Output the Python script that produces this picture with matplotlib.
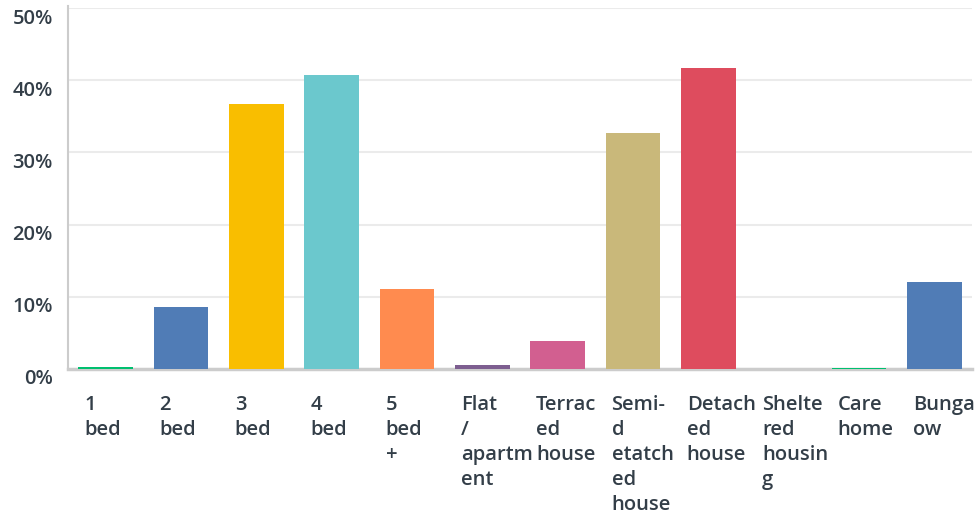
import matplotlib
matplotlib.use("Agg")
import matplotlib.pyplot as plt
import matplotlib.transforms as mtransforms
import numpy as np

# data
categories = ["1\nbed", "2\nbed", "3\nbed", "4\nbed", "5\nbed\n+", "Flat\n/\napartm\nent",
              "Terrac\ned\nhouse", "Semi-\nd\netatch\ned\nhouse", "Detach\ned\nhouse",
              "Shelte\nred\nhousin\ng", "Care\nhome", "Bunga\now"]
values = [0.3, 8.6, 36.7, 40.7, 11.1, 0.6, 3.9, 32.7, 41.7, 0.0, 0.2, 12.0]
colors = ["#00BF6F", "#507CB6", "#F9BE00", "#6BC8CD", "#FF8B4F", "#7D5E90",
          "#D25F90", "#C9B87A", "#DE4C5E", "#A4A4A4", "#00BF6F", "#507CB6"]
yticks = [0, 10, 20, 30, 40, 50]
ytick_labels = ["0%", "10%", "20%", "30%", "40%", "50%"]

plt.rcParams['font.family'] = ['Open Sans', 'DejaVu Sans']
text_col = "#333e48"

fig = plt.figure(figsize=(9.79, 5.14), dpi=100)
ax = fig.add_axes([68/979, 1 - 369/514, (972-68)/979, (369-8)/514])

x = np.arange(len(values))
bw = 0.73
ax.bar(x, values, width=bw, color=colors, zorder=5)

ax.set_xlim(-0.5, len(values) - 0.5)
ax.set_ylim(0, 50)
ax.set_yticks(yticks)
ax.set_yticklabels(ytick_labels, fontsize=14.5, fontweight=600, color=text_col)
ax.yaxis.grid(True, color="#ebebeb", linewidth=1.5, zorder=0)
ax.tick_params(axis="y", length=0, pad=11)
offset = mtransforms.ScaledTranslation(0, -8/100, fig.dpi_scale_trans)
for lab in ax.get_yticklabels():
    lab.set_transform(lab.get_transform() + offset)

ax.set_xticks(x - bw/2 + 0.08)
ax.set_xticklabels(categories, fontsize=14.5, fontweight=600, color=text_col,
                   ha="left", linespacing=1.32)
ax.tick_params(axis="x", length=0, pad=19)

for s in ["top", "right"]:
    ax.spines[s].set_visible(False)
ax.spines["left"].set_color("#cccccc")
ax.spines["left"].set_linewidth(1.5)
ax.spines["left"].set_bounds(0, 50.3)
ax.spines["bottom"].set_color("#cccccc")
ax.spines["bottom"].set_linewidth(2.5)
ax.spines["bottom"].set_zorder(2)

fig.savefig("out.png", dpi=100)
